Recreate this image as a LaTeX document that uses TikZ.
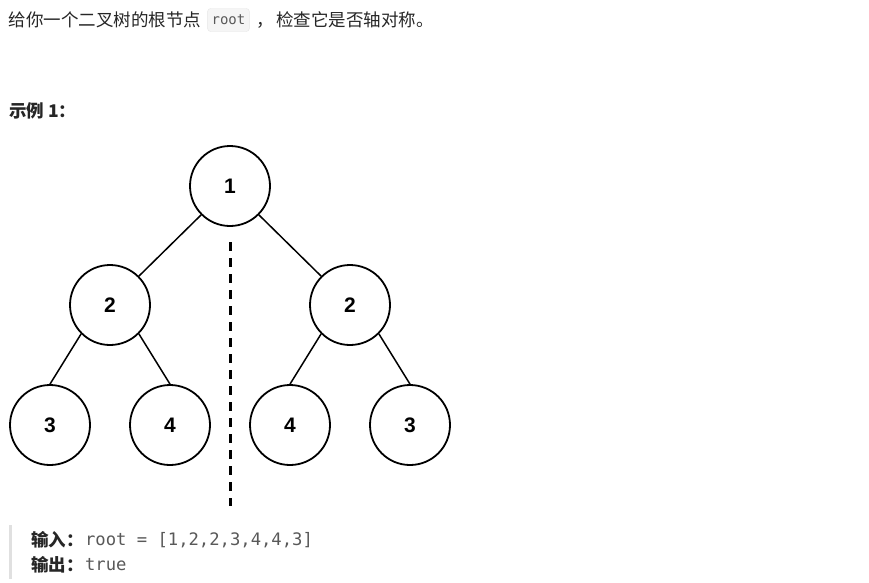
\documentclass[tikz,border=0pt]{standalone}
\usepackage{fontspec}
\usepackage{xcolor}
\usepackage{tikz}
\usetikzlibrary{positioning}
\setmainfont{Liberation Sans}
\newfontfamily\cjk{Noto Sans CJK SC}
\newfontfamily\codefont{DejaVu Sans Mono}
\definecolor{textgray}{HTML}{262626}
\definecolor{codegray}{HTML}{595959}
\definecolor{codebg}{HTML}{F5F5F5}
\definecolor{codeline}{HTML}{E6E6E6}
\definecolor{quotebar}{HTML}{E0E0E0}

\begin{document}
\begin{tikzpicture}[x=1pt,y=-1pt,
  treenode/.style={circle,draw=black,line width=1.8pt,minimum size=80pt,inner sep=0pt,
    font=\fontsize{21}{21}\selectfont\bfseries},
  treeedge/.style={line width=1.5pt},
  plain/.style={inner sep=0pt,text=textgray,font=\cjk\fontsize{17.5}{17.5}\selectfont},
  boldlabel/.style={plain,anchor=west,font=\cjk\bfseries\fontsize{17.5}{17.5}\selectfont},
  codetext/.style={inner sep=0pt,text=codegray,font=\codefont\fontsize{17.2}{17.2}\selectfont},
  inlinecode/.style={rounded corners=3pt,fill=codebg,draw=codeline,text=codegray,
    inner xsep=4pt,minimum height=23pt,font=\codefont\fontsize{14}{14}\selectfont}]
  \useasboundingbox[fill=white] (0,0) rectangle (869,582);
  % problem text
  \node[plain,anchor=west] (intro) at (8.5,20) {给你一个二叉树的根节点};
  \node[inlinecode,right=6pt of intro] (code) {root};
  \node[plain,right=7pt of code] (rest) {，\hspace{2pt}检查它是否轴对称。};
  \node[boldlabel] (example) at (9,111) {示例 1：};
  % tree
  \node[treenode] (n1) at (230,186) {1};
  \node[treenode] (n2l) at (110,305) {2};
  \node[treenode] (n2r) at (350,305) {2};
  \node[treenode] (n3a) at (50,425) {3};
  \node[treenode] (n3b) at (170,425) {4};
  \node[treenode] (n3c) at (290,425) {4};
  \node[treenode] (n3d) at (410,425) {3};
  \draw[treeedge] (n1.south west) -- (n2l.north east);
  \draw[treeedge] (n1.south east) -- (n2r.north west);
  \foreach \p/\l/\r in {n2l/n3a/n3b,n2r/n3c/n3d}{
    \draw[treeedge] (\p.south west) -- (\l.north);
    \draw[treeedge] (\p.south east) -- (\r.north);
  }
  % axis of symmetry
  \coordinate (axistop) at (230,242);
  \coordinate (axisbot) at (230,506);
  \draw[line width=3pt,dash pattern=on 9pt off 7pt] (axistop) -- (axisbot);
  % input / output
  \fill[quotebar] (9,525) rectangle (12,579);
  \node[boldlabel] (inlabel) at (31,540) {输入：};
  \node[codetext,right=1pt of inlabel] (inval) {root = [1,2,2,3,4,4,3]};
  \node[boldlabel] (outlabel) at (31,565) {输出：};
  \node[codetext,right=1pt of outlabel] (outval) {true};
\end{tikzpicture}
\end{document}
